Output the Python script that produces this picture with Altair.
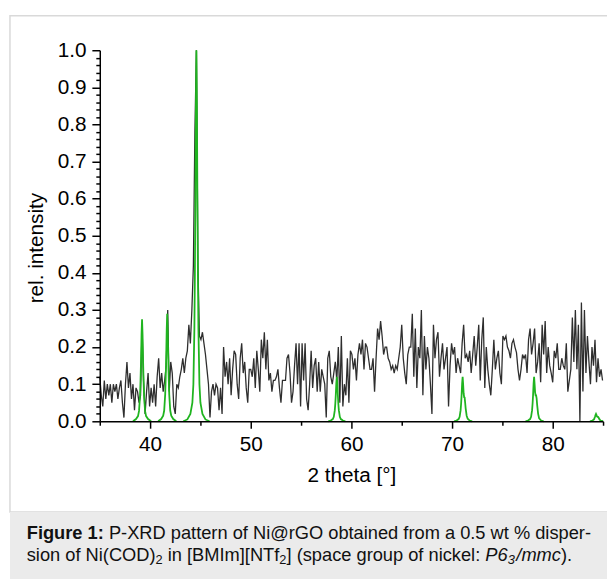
import altair as alt
import pandas as pd

FONT = "Liberation Sans, Arial, Helvetica, sans-serif"

# ---------------- measured pattern (black), 2theta = 35.00 + 0.15*i ----------------
THETA_START = 35.0
THETA_STEP = 0.15
intensity = [
    # 35.00 - 36.35
    0.12, 0.07, 0.04, 0.11, 0.06, 0.10, 0.07, 0.10, 0.05, 0.10,
    # 36.50 - 37.85
    0.08, 0.10, 0.06, 0.09, 0.11, 0.05, 0.01, 0.10, 0.16, 0.09,
    # 38.00 - 39.35
    0.13, 0.06, 0.10, 0.03, 0.09, 0.08, 0.05, 0.07, 0.255, 0.11,
    # 39.50 - 40.85
    0.02, 0.08, 0.13, 0.04, 0.09, 0.05, 0.10, 0.04, 0.12, 0.17,
    # 41.00 - 42.35
    0.09, 0.13, 0.08, 0.11, 0.15, 0.30, 0.08, 0.16, 0.13, 0.04,
    # 42.50 - 43.85
    0.02, 0.10, 0.09, 0.12, 0.14, 0.17, 0.13, 0.17, 0.19, 0.26,
    # 44.00 - 45.35
    0.21, 0.30, 0.42, 0.78, 1.00, 0.42, 0.23, 0.22, 0.24, 0.21,
    # 45.50 - 46.85
    0.18, 0.14, 0.10, 0.01, 0.08, 0.10, 0.07, 0.10, 0.09, 0.03,
    # 47.00 - 48.35
    0.09, 0.02, 0.20, 0.12, 0.16, 0.10, 0.17, 0.07, 0.14, 0.19,
    # 48.50 - 49.85
    0.18, 0.10, 0.06, 0.17, 0.21, 0.13, 0.16, 0.09, 0.05, 0.14,
    # 50.00 - 51.35
    0.14, 0.12, 0.17, 0.09, 0.19, 0.14, 0.08, 0.22, 0.17, 0.24,
    # 51.50 - 52.85
    0.14, 0.22, 0.11, 0.13, 0.08, 0.11, 0.11, 0.12, 0.14, 0.09,
    # 53.00 - 54.35
    0.05, 0.11, 0.11, 0.11, 0.17, 0.18, 0.13, 0.05, 0.08, 0.15,
    # 54.50 - 55.85
    0.21, 0.10, 0.21, 0.04, 0.21, 0.11, 0.21, 0.06, 0.03, 0.10,
    # 56.00 - 57.35
    0.19, 0.09, 0.15, 0.17, 0.08, 0.16, 0.08, 0.14, 0.12, 0.10,
    # 57.50 - 58.85
    0.01, 0.17, 0.19, 0.12, 0.10, 0.13, 0.16, 0.11, 0.20, 0.05,
    # 59.00 - 60.35
    0.23, 0.04, 0.10, 0.07, 0.17, 0.05, 0.19, 0.18, 0.14, 0.17,
    # 60.50 - 61.85
    0.11, 0.18, 0.21, 0.18, 0.22, 0.14, 0.21, 0.20, 0.17, 0.14,
    # 62.00 - 63.35
    0.14, 0.17, 0.08, 0.17, 0.25, 0.22, 0.27, 0.23, 0.18, 0.20,
    # 63.50 - 64.85
    0.20, 0.17, 0.16, 0.14, 0.15, 0.13, 0.15, 0.14, 0.17, 0.20,
    # 65.00 - 66.35
    0.26, 0.17, 0.13, 0.10, 0.18, 0.20, 0.20, 0.29, 0.12, 0.25,
    # 66.50 - 67.85
    0.09, 0.20, 0.17, 0.30, 0.07, 0.23, 0.14, 0.20, 0.17, 0.10,
    # 68.00 - 69.35
    0.02, 0.26, 0.17, 0.22, 0.24, 0.12, 0.17, 0.21, 0.14, 0.17,
    # 69.50 - 70.85
    0.20, 0.04, 0.15, 0.21, 0.18, 0.20, 0.13, 0.17, 0.15, 0.13,
    # 71.00 - 72.35
    0.21, 0.26, 0.17, 0.18, 0.16, 0.19, 0.13, 0.18, 0.23, 0.15,
    # 72.50 - 73.85
    0.20, 0.26, 0.11, 0.22, 0.28, 0.09, 0.20, 0.14, 0.10, 0.07,
    # 74.00 - 75.35
    0.14, 0.22, 0.14, 0.17, 0.19, 0.13, 0.10, 0.23, 0.22, 0.23,
    # 75.50 - 76.85
    0.20, 0.19, 0.17, 0.21, 0.22, 0.20, 0.185, 0.14, 0.11, 0.14,
    # 77.00 - 78.35
    0.18, 0.17, 0.18, 0.13, 0.22, 0.25, 0.18, 0.21, 0.25, 0.13,
    # 78.50 - 79.85
    0.16, 0.21, 0.105, 0.26, 0.18, 0.27, 0.13, 0.20, 0.15, 0.13,
    # 80.00 - 81.35
    0.105, 0.19, 0.17, 0.21, 0.14, 0.14, 0.17, 0.15, 0.14, 0.21,
    # 81.50 - 82.85
    0.08, 0.11, 0.14, 0.28, 0.16, 0.30, 0.14, 0.26, 0.00, 0.32,
    # 83.00 - 84.35
    0.08, 0.30, 0.13, 0.23, 0.16, 0.10, 0.20, 0.15, 0.22, 0.105,
    # 84.50 - 84.95
    0.17, 0.12, 0.14, 0.11,
]
theta = [round(THETA_START + THETA_STEP * i, 2) for i in range(len(intensity))]

# ---------------- reference pattern of hcp nickel (green) ----------------
p1_theta = [38.3, 38.6, 38.8, 38.9, 39.0, 39.05, 39.1, 39.15, 39.2, 39.25, 39.3, 39.35, 39.4, 39.5, 39.6, 39.8, 40.1]
p1_int = [0.0, 0.006, 0.014, 0.028, 0.069, 0.11, 0.165, 0.234, 0.275, 0.234, 0.165, 0.11, 0.069, 0.028, 0.014, 0.006, 0.0]
p2_theta = [40.8, 41.1, 41.3, 41.4, 41.5, 41.55, 41.6, 41.65, 41.7, 41.75, 41.8, 41.85, 41.9, 42.0, 42.1, 42.3, 42.6]
p2_int = [0.0, 0.006, 0.015, 0.029, 0.073, 0.116, 0.174, 0.247, 0.29, 0.247, 0.174, 0.116, 0.073, 0.029, 0.015, 0.006, 0.0]
p3_theta = [43.3, 43.7, 44.0, 44.2, 44.3, 44.4, 44.45, 44.5, 44.55, 44.6, 44.65, 44.7, 44.75, 44.8, 44.9, 45.0, 45.2, 45.5, 45.9]
p3_int = [0.0, 0.005, 0.02, 0.05, 0.1, 0.25, 0.4, 0.6, 0.85, 1.0, 0.85, 0.6, 0.4, 0.25, 0.1, 0.05, 0.02, 0.005, 0.0]
p4_theta = [57.7, 57.95, 58.15, 58.25, 58.35, 58.4, 58.45, 58.5, 58.55, 58.6, 58.65, 58.7, 58.75, 58.85, 58.95, 59.15, 59.4]
p4_int = [0.0, 0.002, 0.006, 0.012, 0.03, 0.048, 0.072, 0.102, 0.12, 0.102, 0.072, 0.048, 0.03, 0.012, 0.006, 0.002, 0.0]
p5_theta = [70.2, 70.45, 70.65, 70.75, 70.85, 70.9, 70.95, 71.0, 71.05, 71.1, 71.15, 71.2, 71.25, 71.3, 71.35, 71.45, 71.55, 71.75, 72.0]
p5_int = [0.0, 0.002, 0.006, 0.012, 0.03, 0.048, 0.072, 0.102, 0.12, 0.10, 0.075, 0.065, 0.064, 0.05, 0.035, 0.015, 0.007, 0.002, 0.0]
p6_theta = [77.3, 77.55, 77.75, 77.85, 77.95, 78.0, 78.05, 78.1, 78.15, 78.2, 78.25, 78.3, 78.35, 78.4, 78.45, 78.55, 78.65, 78.85, 79.1]
p6_int = [0.0, 0.002, 0.006, 0.012, 0.03, 0.048, 0.072, 0.102, 0.12, 0.10, 0.078, 0.07, 0.07, 0.062, 0.045, 0.02, 0.008, 0.002, 0.0]
p7_theta = [83.7, 83.95, 84.1, 84.2, 84.25, 84.3, 84.35, 84.4, 84.45, 84.5, 84.55, 84.65, 84.75, 84.9, 85.0]
p7_int = [0.0, 0.002, 0.005, 0.012, 0.017, 0.02, 0.017, 0.013, 0.012, 0.012, 0.01, 0.005, 0.002, 0.001, 0.0]

x_tick_labels = [40, 50, 60, 70, 80]
x_minor_ticks = [35, 45, 55, 65, 75, 85]
y_tick_labels = [0.0, 0.1, 0.2, 0.3, 0.4, 0.5, 0.6, 0.7, 0.8, 0.9, 1.0]
y_minor_ticks = [round(i / 50, 2) for i in range(51) if i % 5 != 0]

x_title = "2 theta [°]"
y_title = "rel. intensity"

cap_bold = "Figure 1:"
cap_line1 = "P-XRD pattern of Ni@rGO obtained from a 0.5 wt % disper-"
# (text, font style, subscript?, space before?)
cap_line2 = [
    ("sion of Ni(COD)", "normal", False, False),
    ("2", "normal", True, False),
    ("in [BMIm][NTf", "normal", False, True),
    ("2", "normal", True, False),
    ("] (space group of nickel:", "normal", False, False),
    ("P6", "italic", False, True),
    ("3", "italic", True, False),
    ("/mmc", "italic", False, False),
    (").", "normal", False, False),
]

# ---------------- tables ----------------
df_black = pd.DataFrame({"theta": theta, "I": intensity})
peaks = [(p1_theta, p1_int), (p2_theta, p2_int), (p3_theta, p3_int), (p4_theta, p4_int),
         (p5_theta, p5_int), (p6_theta, p6_int), (p7_theta, p7_int)]
rows = []
for k, (tx, iy) in enumerate(peaks):
    for a, b in zip(tx, iy):
        rows.append({"theta": a, "I": b, "peak": k})
df_green = pd.DataFrame(rows)

# ---------------- layout ----------------
W, H = 510, 376
PAD_L, PAD_T = 93, 39
PAD_R, PAD_B = 4, 156

# Arial / Liberation Sans advance widths (per 1000 em)
REG = {' ': 278, '%': 889, '(': 333, ')': 333, '-': 333, '.': 278, '/': 278, ':': 278, '@': 1015,
       '[': 278, ']': 278, 'B': 667, 'C': 722, 'D': 722, 'F': 611, 'G': 778, 'I': 278, 'M': 833,
       'N': 722, 'O': 778, 'P': 667, 'R': 722, 'T': 611, 'X': 667,
       'a': 556, 'b': 556, 'c': 500, 'd': 556, 'e': 556, 'f': 278, 'g': 556, 'h': 556, 'i': 222,
       'k': 500, 'l': 222, 'm': 833, 'n': 556, 'o': 556, 'p': 556, 'r': 333, 's': 500, 't': 278,
       'u': 556, 'w': 722}
BOLD = {'F': 611, 'i': 278, 'g': 611, 'u': 611, 'r': 389, 'e': 556, ' ': 278, ':': 333}


def tw(s, fs, bold=False):
    table = BOLD if bold else REG
    return sum(table.get(c, 556) for c in s) * fs / 1000.0


CAP_FS = 18.5
SUB_FS = 13
CAP_X = 27 - 8 - PAD_L          # page x 27
CAP_Y1 = 542.5 - 8 - PAD_T      # baseline line 1
CAP_Y2 = 564.5 - 8 - PAD_T      # baseline line 2


def text_layer(s, x, y, fs, weight="normal", style="normal"):
    return alt.Chart(pd.DataFrame({"t": [s]})).mark_text(
        align="left", baseline="alphabetic", font=FONT, fontSize=fs,
        fontWeight=weight, fontStyle=style, color="#111111",
    ).encode(text="t:N", x=alt.value(x), y=alt.value(y))


space = tw(" ", CAP_FS)
texts = [text_layer(cap_bold, CAP_X, CAP_Y1, CAP_FS, weight="bold"),
         text_layer(cap_line1, CAP_X + tw(cap_bold, CAP_FS, True) + space, CAP_Y1, CAP_FS)]

cx = CAP_X
for s, style, sub, lead in cap_line2:
    if lead:
        cx += space
    fs = SUB_FS if sub else CAP_FS
    texts.append(text_layer(s, cx, CAP_Y2 + (3.5 if sub else 0), fs, style=style))
    cx += tw(s, fs) + (1.5 if (sub and style == "italic") else 0)

one = pd.DataFrame({"a": [0]})
frame = alt.Chart(one).mark_rect(fillOpacity=0, stroke="#d9d9d9", strokeWidth=1.5).encode(
    x=alt.value(10 - 8 - PAD_L), x2=alt.value(W + 60),
    y=alt.value(12 - 8 - PAD_T), y2=alt.value(515 - 8 - PAD_T))
caption_bg = alt.Chart(one).mark_rect(fill="#ebebeb").encode(
    x=alt.value(10 - 8 - PAD_L), x2=alt.value(W + 60),
    y=alt.value(515 - 8 - PAD_T), y2=alt.value(H + 300))

xs = alt.Scale(domain=[35, 85], nice=False, zero=False)
ys = alt.Scale(domain=[0, 1], nice=False, zero=False)

common = dict(tickColor="black", tickWidth=1.5, grid=False, zindex=1)
x_major = alt.Axis(values=x_tick_labels, format="d", orient="bottom", tickSize=7,
                   domainColor="black", domainWidth=1.5,
                   labelFont=FONT, labelFontSize=21, labelColor="black", labelPadding=6,
                   title=x_title, titleFont=FONT, titleFontSize=21, titleFontWeight="normal",
                   titleColor="black", titleBaseline="alphabetic", titleY=61, **common)
y_major = alt.Axis(values=y_tick_labels, format=".1f", orient="left", tickSize=8,
                   domainColor="black", domainWidth=1.5,
                   labelFont=FONT, labelFontSize=21, labelColor="black", labelPadding=6,
                   title=y_title, titleFont=FONT, titleFontSize=21, titleFontWeight="normal",
                   titleColor="black", titleBaseline="alphabetic", titleAngle=270,
                   titleX=-58, titleY=200, titleAlign="center", **common)
x_minor = alt.Axis(values=x_minor_ticks, orient="bottom", tickSize=4, labels=False,
                   domain=False, title="", **common)
y_minor = alt.Axis(values=y_minor_ticks, orient="left", tickSize=4, labels=False,
                   domain=False, title="", **common)

black = alt.Chart(df_black).mark_line(color="#2e2e2e", strokeWidth=1.3).encode(
    x=alt.X("theta:Q", scale=xs, axis=x_major),
    y=alt.Y("I:Q", scale=ys, axis=y_major),
)
green = alt.Chart(df_green).mark_line(color="#1fb41f", strokeWidth=1.8).encode(
    x=alt.X("theta:Q", scale=xs, axis=x_minor),
    y=alt.Y("I:Q", scale=ys, axis=y_minor),
    detail="peak:N",
)

chart = alt.layer(frame, caption_bg, *texts, black, green).resolve_axis(
    x="independent", y="independent"
).properties(
    width=W, height=H,
    padding={"left": PAD_L, "top": PAD_T, "right": PAD_R, "bottom": PAD_B},
    autosize=alt.AutoSizeParams(type="none"),
    background="white",
).configure_view(stroke="transparent")

chart.save("out.html", embed_options={"renderer": "svg", "actions": False})
